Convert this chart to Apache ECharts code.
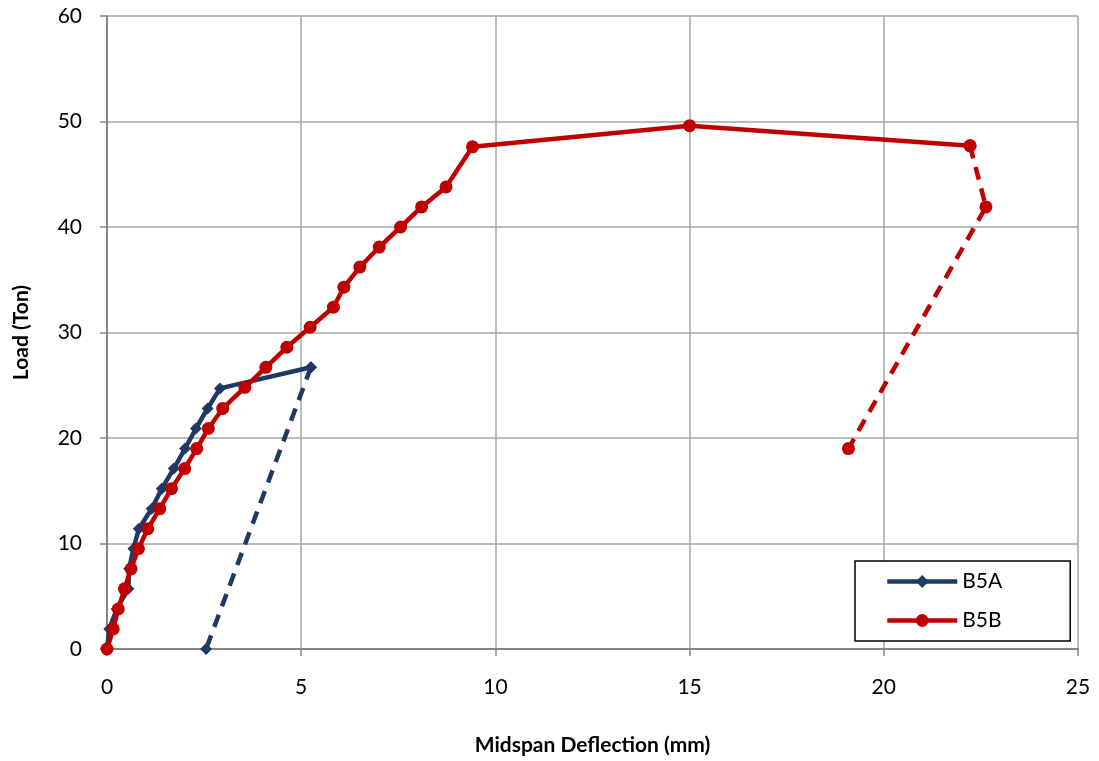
<!DOCTYPE html>
<html>
<head>
<meta charset="utf-8">
<script src="https://cdn.jsdelivr.net/npm/echarts@6/dist/echarts.min.js"></script>
<style>
  html, body { margin: 0; padding: 0; background: #fff; }
  #chart { width: 1099px; height: 761px; }
</style>
</head>
<body>
<div id="chart"></div>
<script>
// B5A loading branch
const b5aDefl = [0, 0.06, 0.25, 0.55, 0.57, 0.68, 0.82, 1.15, 1.41, 1.72, 2.01, 2.29, 2.59, 2.91, 5.25];
const b5aLoad = [0, 1.9, 3.8, 5.7, 7.6, 9.5, 11.4, 13.3, 15.2, 17.1, 19.0, 20.9, 22.8, 24.7, 26.7];
// B5A unloading branch (dashed)
const b5aUnDefl = [5.25, 2.55];
const b5aUnLoad = [26.7, 0];

// B5B loading branch
const b5bDefl = [0, 0.16, 0.29, 0.45, 0.62, 0.81, 1.05, 1.36, 1.66, 2.0, 2.31, 2.61, 2.98, 3.55, 4.09,
  4.63, 5.23, 5.83, 6.10, 6.51, 7.01, 7.56, 8.10, 8.73, 9.41, 15.0, 22.22];
const b5bLoad = [0, 1.9, 3.8, 5.7, 7.6, 9.5, 11.4, 13.3, 15.2, 17.1, 19.0, 20.9, 22.8, 24.8, 26.7,
  28.6, 30.5, 32.4, 34.3, 36.2, 38.1, 40.0, 41.9, 43.8, 47.6, 49.6, 47.7];
// B5B post-peak branch (dashed)
const b5bUnDefl = [22.22, 22.63, 19.09];
const b5bUnLoad = [47.7, 41.9, 19.0];

const xTicks = [0, 5, 10, 15, 20, 25];
const yTicks = [0, 10, 20, 30, 40, 50, 60];

const pairs = (xs, ys) => xs.map((x, i) => [x, ys[i]]);

const blue = '#1F3864';
const red = '#C00000';
const font = 'Lato, "Open Sans", sans-serif';

const chart = echarts.init(document.getElementById('chart'));
chart.setOption({
  animation: false,
  textStyle: { fontFamily: font },
  grid: { left: 107, right: 21, top: 16, bottom: 112, containLabel: false, outerBoundsMode: 'none' },
  xAxis: {
    type: 'value',
    min: xTicks[0], max: xTicks[xTicks.length - 1], interval: 5,
    name: 'Midspan Deflection (mm)',
    nameLocation: 'middle', nameGap: 86,
    nameTextStyle: { fontSize: 21, fontWeight: 'bold', color: '#000', fontFamily: font },
    axisLine: { show: true, lineStyle: { color: '#868686', width: 2 } },
    axisTick: { show: true, inside: false, length: 7, lineStyle: { color: '#868686', width: 1.5 } },
    axisLabel: { fontSize: 21, color: '#000', margin: 28, fontFamily: font },
    splitLine: { show: true, lineStyle: { color: '#A6A6A6', width: 1.5 } }
  },
  yAxis: {
    type: 'value',
    min: yTicks[0], max: yTicks[yTicks.length - 1], interval: 10,
    name: 'Load (Ton)',
    nameLocation: 'middle', nameGap: 75, nameRotate: 90,
    nameTextStyle: { fontSize: 21, fontWeight: 'bold', color: '#000', fontFamily: font },
    axisLine: { show: true, lineStyle: { color: '#868686', width: 2 } },
    axisTick: { show: true, inside: false, length: 7, lineStyle: { color: '#868686', width: 1.5 } },
    axisLabel: { fontSize: 21, color: '#000', margin: 25, fontFamily: font },
    splitLine: { show: true, lineStyle: { color: '#A6A6A6', width: 1.5 } }
  },
  legend: {
    data: ['B5A', 'B5B'],
    orient: 'vertical',
    left: 855, top: 561,
    padding: [10, 68, 10, 30],
    itemGap: 18,
    itemWidth: 70, itemHeight: 16,
    borderColor: '#000', borderWidth: 1.5,
    backgroundColor: '#fff',
    lineStyle: { width: 4.5 },
    textStyle: { fontSize: 21, color: '#000', fontFamily: font }
  },
  series: [
    {
      name: 'B5A', type: 'line', data: pairs(b5aDefl, b5aLoad), z: 3,
      symbol: 'diamond', symbolSize: 12,
      itemStyle: { color: blue },
      lineStyle: { color: blue, width: 4.5 }
    },
    {
      name: 'B5A unloading', type: 'line', data: pairs(b5aUnDefl, b5aUnLoad), z: 3,
      symbol: 'diamond', symbolSize: 12,
      itemStyle: { color: blue },
      lineStyle: { color: blue, width: 4.5, type: [13, 9] }
    },
    {
      name: 'B5B', type: 'line', data: pairs(b5bDefl, b5bLoad), z: 4,
      symbol: 'circle', symbolSize: 13,
      itemStyle: { color: red },
      lineStyle: { color: red, width: 4.5 }
    },
    {
      name: 'B5B post-peak', type: 'line', data: pairs(b5bUnDefl, b5bUnLoad), z: 4,
      symbol: 'circle', symbolSize: 13,
      itemStyle: { color: red },
      lineStyle: { color: red, width: 4.5, type: [13, 9] }
    }
  ]
});
</script>
</body>
</html>
